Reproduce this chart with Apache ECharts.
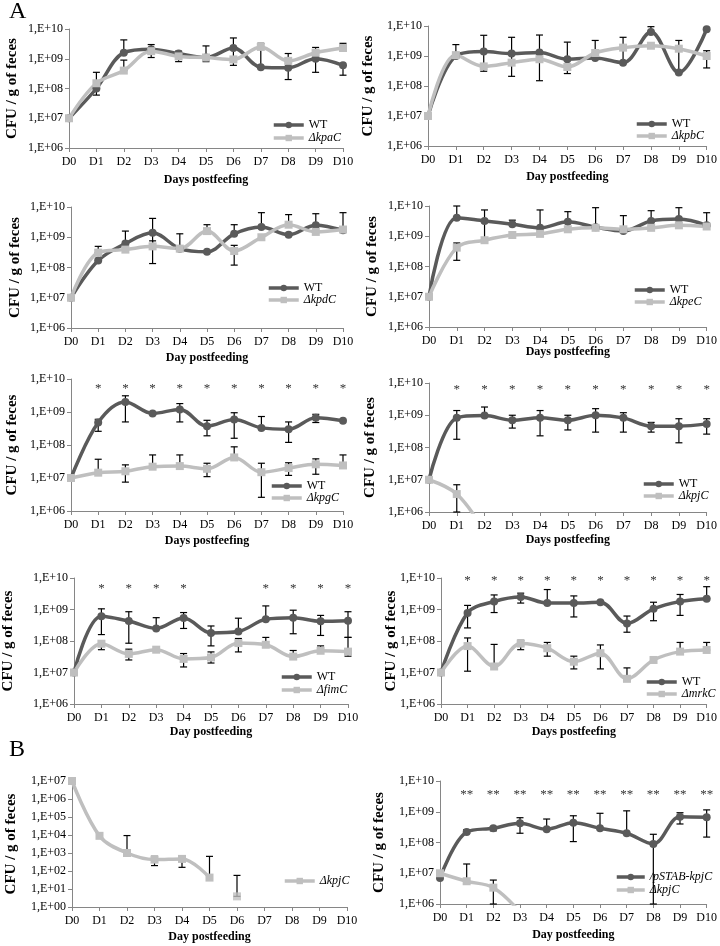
<!DOCTYPE html>
<html>
<head>
<meta charset="utf-8">
<script src="https://cdn.jsdelivr.net/npm/echarts@6/dist/echarts.min.js"></script>
<style>
html, body { margin: 0; padding: 0; background: #fff; }
#main { width: 720px; height: 946px; }
</style>
</head>
<body>
<div id="main"></div>
<script>
var days = ['D0', 'D1', 'D2', 'D3', 'D4', 'D5', 'D6', 'D7', 'D8', 'D9', 'D10'];

// error bars are [day, low, high]
var kpaWT = [1e7, 1e8, 1.6e9, 2.1e9, 1.5e9, 1.1e9, 2.3e9, 5.2e8, 5e8, 1e9, 6e8];
var kpaMut = [1e7, 1.5e8, 4e8, 1.8e9, 1.2e9, 1.1e9, 9.5e8, 2.5e9, 8.5e8, 1.6e9, 2.3e9];
var kpaErr = [[1, 6e7, 3.5e8], [2, 1.6e9, 4.3e9], [2, 4e8, 9e8], [3, 1.1e9, 3e9], [4, 8e8, 1.8e9], [5, 8e8, 2.7e9],
    [6, 6e8, 5e9], [7, 5.2e8, 3.3e9], [8, 2e8, 1.5e9], [9, 3.5e8, 2.4e9], [10, 2.8e8, 6e8], [10, 2.3e9, 3.3e9]];

var kpbWT = [1e7, 1e9, 1.4e9, 1.2e9, 1.3e9, 7.8e8, 8.6e8, 6e8, 6.3e9, 2.8e8, 7.8e9];
var kpbMut = [1e7, 1.07e9, 4.5e8, 6e8, 7.8e8, 4.3e8, 1.26e9, 1.9e9, 2.2e9, 1.75e9, 1e9];
var kpbErr = [[1, 1e9, 2.4e9], [2, 3.1e8, 4.9e9], [3, 2.1e8, 4.2e9], [4, 1.5e8, 5e9], [5, 2.6e8, 2.9e9],
    [6, 1.26e9, 3.3e9], [7, 6e8, 4.2e9], [8, 6.3e9, 9.5e9], [9, 2.8e8, 3.3e9], [10, 4e8, 1.5e9]];

var kpdWT = [1e7, 1.7e8, 6.2e8, 1.4e9, 4.2e8, 3.3e8, 1.3e9, 2.2e9, 1.2e9, 2.5e9, 1.7e9];
var kpdMut = [1e7, 3.1e8, 3.9e8, 5e8, 4.2e8, 1.6e9, 3.5e8, 1e9, 2.6e9, 1.5e9, 1.8e9];
var kpdErr = [[1, 3.1e8, 5e8], [2, 6.2e8, 1.6e9], [3, 1.35e8, 4.2e9], [3, 5e8, 7.6e8], [4, 4.2e8, 1.3e9],
    [5, 1.6e9, 2.6e9], [6, 1.3e9, 2.6e9], [6, 1.2e8, 5.4e8], [7, 2.2e9, 6.5e9], [8, 2.6e9, 5.6e9],
    [9, 2.5e9, 6e9], [10, 1.7e9, 6.5e9]];

var kpeWT = [1e7, 4.1e9, 3.2e9, 2.5e9, 1.9e9, 3e9, 2e9, 1.5e9, 3.2e9, 3.7e9, 2.3e9];
var kpeMut = [1e7, 4.2e8, 7.4e8, 1.1e9, 1.2e9, 1.7e9, 1.9e9, 1.7e9, 1.9e9, 2.3e9, 2.1e9];
var kpeErr = [[1, 4.1e9, 1e10], [1, 1.6e8, 6e8], [2, 7.4e8, 7.4e9], [3, 2.5e9, 3.4e9], [4, 1.2e9, 7.4e9],
    [5, 1.7e9, 6.5e9], [6, 1.9e9, 8.8e9], [7, 1.5e9, 4.8e9], [8, 1.9e9, 7e9], [9, 3.7e9, 8.8e9], [10, 2.1e9, 6e9]];

var kpgWT = [1e7, 4.8e8, 2e9, 9e8, 1.2e9, 3.7e8, 5.9e8, 3.3e8, 3e8, 6.7e8, 5.4e8];
var kpgMut = [1e7, 1.45e7, 1.6e7, 2.2e7, 2.3e7, 1.9e7, 4.2e7, 1.5e7, 2e7, 2.6e7, 2.4e7];
var kpgErr = [[1, 2.6e8, 6e8], [2, 5e8, 3.1e9], [4, 5e8, 1.8e9], [5, 1.9e8, 5.6e8], [6, 1.6e8, 9.5e8],
    [7, 3.3e8, 7.3e8], [8, 1.2e8, 5e8], [9, 4.8e8, 8.5e8],
    [1, 1.45e7, 3.7e7], [2, 7.5e6, 2.5e7], [3, 2.2e7, 5e7], [4, 2.3e7, 5e7], [5, 1.1e7, 2.8e7],
    [6, 4.2e7, 8.8e7], [7, 2.6e6, 2.8e7], [8, 1.2e7, 2.9e7], [9, 1.3e7, 3.8e7], [10, 2.4e7, 5e7]];
var kpgStars = [1, 2, 3, 4, 5, 6, 7, 8, 9, 10];

var kpjWT = [1e7, 8.3e8, 9.8e8, 7e8, 8.3e8, 7e8, 1e9, 8.3e8, 4.6e8, 4.6e8, 5.4e8];
var kpjMut = [1e7, 3.6e6, 2.5e5, null, null, null, null, null, null, null, null];
var kpjErr = [[1, 1.8e8, 1.4e9], [2, 9.8e8, 1.8e9], [3, 4e8, 1e9], [4, 2.3e8, 1.4e9], [5, 3.5e8, 1e9],
    [6, 3e8, 1.6e9], [7, 3e8, 1.2e9], [8, 3e8, 6e8], [9, 1.4e8, 7.8e8], [10, 2.6e8, 7.8e8], [1, 1e6, 7e6]];
var kpjStars = [1, 2, 3, 4, 5, 6, 7, 8, 9, 10];

var fimWT = [1e7, 6.1e8, 4.3e8, 2.5e8, 5.4e8, 1.8e8, 2e8, 4.9e8, 5.5e8, 4.2e8, 4.4e8];
var fimMut = [1e7, 8.2e7, 3.9e7, 5.3e7, 2.7e7, 3e7, 8.6e7, 7.6e7, 3.2e7, 4.9e7, 4.6e7];
var fimErr = [[1, 1.6e8, 1.05e9], [2, 8.5e7, 8.5e8], [3, 2.5e8, 5.5e8], [4, 2.5e8, 8e8], [5, 7e7, 3e8],
    [6, 2e8, 5.3e8], [7, 4.9e8, 1.3e9], [8, 1.7e8, 9.5e8], [9, 1.5e8, 6.5e8], [10, 1.3e8, 8.5e8],
    [1, 5.3e7, 8.2e7], [2, 2.5e7, 5.5e7], [4, 1.5e7, 4e7], [5, 2e7, 4.5e7], [6, 4.5e7, 1.2e8],
    [7, 7.6e7, 1.3e8], [8, 3.2e7, 5e7], [9, 4.9e7, 7e7], [10, 3.3e7, 1.3e8]];
var fimStars = [1, 2, 3, 4, 7, 8, 9, 10];

var mrkWT = [1e7, 7.8e8, 1.8e9, 2.5e9, 1.6e9, 1.6e9, 1.7e9, 3.6e8, 1.05e9, 1.8e9, 2.2e9];
var mrkMut = [1e7, 6.9e7, 1.55e7, 8.3e7, 5.9e7, 2.2e7, 4.1e7, 6.3e6, 2.5e7, 4.6e7, 5.2e7];
var mrkErr = [[1, 2.6e8, 1.35e9], [2, 8e8, 2.9e9], [3, 1.6e9, 3.3e9], [4, 1.6e9, 4.3e9], [5, 5.8e8, 2.7e9],
    [7, 1.9e8, 6.2e8], [8, 4.4e8, 1.7e9], [9, 6.5e8, 3e9], [10, 2.2e9, 5.3e9],
    [1, 1.1e7, 1.25e8], [2, 1.55e7, 7.8e7], [3, 5.3e7, 1.05e8], [4, 3.3e7, 9e7], [5, 1.3e7, 3.3e7],
    [6, 1.3e7, 7.5e7], [7, 6.3e6, 1.4e7], [9, 4.6e7, 9e7], [10, 5.2e7, 9e7]];
var mrkStars = [1, 2, 3, 4, 5, 6, 7, 8, 9, 10];

// B
var bKpj = [1e7, 9e3, 1e3, 4.3e2, 4.7e2, 43, 3.9, null, null, null, null];
var bKpjErr = [[2, 1e3, 9.3e3], [3, 2e2, 6.5e2], [4, 1.6e2, 6.5e2], [5, 43, 6.5e2], [6, 3.9, 57]];

var pstabComp = [7e6, 2.2e8, 2.9e8, 4.2e8, 2.7e8, 4.4e8, 2.9e8, 2e8, 9e7, 6.9e8, 6.6e8];
var pstabMut = [1e7, 5.5e6, 3.4e6, 5.5e5, null, null, null, null, null, null, null];
var pstabErr = [[1, 2e8, 2.6e8], [2, 2.4e8, 3.3e8], [3, 2e8, 6.4e8], [4, 2.7e8, 5.8e8], [5, 1.07e8, 7.4e8],
    [6, 2.9e8, 8.9e8], [7, 2e8, 1.07e9], [8, 1e6, 1.85e8], [9, 4e8, 9.3e8], [10, 1.5e8, 1.15e9],
    [1, 5.5e6, 2e7], [2, 1e6, 6e6]];
var pstabStars = [1, 2, 3, 4, 5, 6, 7, 8, 9, 10];

var FONT = 'Liberation Serif';
var DARK = '#5a5a5a';
var LIGHT = '#bfbfbf';
var AXIS = '#868686';

var panels = [
    { left: 69, top: 29, width: 274, height: 119, xName: 'Days postfeefing', xGap: 26, yGap: 49,
      wt: { name: 'WT', data: kpaWT }, mut: { name: 'ΔkpaC', data: kpaMut }, err: kpaErr,
      legLeft: 272, legTop: 119, legGap: 1 },
    { left: 428, top: 26, width: 280, height: 120, xName: 'Day postfeeding', xGap: 25, yGap: 52,
      wt: { name: 'WT', data: kpbWT }, mut: { name: 'ΔkpbC', data: kpbMut }, err: kpbErr,
      legLeft: 635, legTop: 118, legGap: 0 },
    { left: 71, top: 207, width: 272, height: 121, xName: 'Day postfeeding', xGap: 24, yGap: 48,
      wt: { name: 'WT', data: kpdWT }, mut: { name: 'ΔkpdC', data: kpdMut }, err: kpdErr,
      legLeft: 267, legTop: 282, legGap: 0 },
    { left: 429, top: 206, width: 279, height: 121, xName: 'Days postfeefing', xGap: 19, yGap: 49,
      wt: { name: 'WT', data: kpeWT }, mut: { name: 'ΔkpeC', data: kpeMut }, err: kpeErr,
      legLeft: 633, legTop: 284, legGap: 0 },
    { left: 71, top: 379, width: 272, height: 132, xName: 'Days postfeefing', xGap: 24, yGap: 51,
      wt: { name: 'WT', data: kpgWT }, mut: { name: 'ΔkpgC', data: kpgMut }, err: kpgErr,
      stars: kpgStars, starLevel: 5e9, starText: '*',
      legLeft: 270, legTop: 480, legGap: 0 },
    { left: 429, top: 383, width: 279, height: 129, xName: 'Days postfeefing', xGap: 22, yGap: 51,
      wt: { name: 'WT', data: kpjWT }, mut: { name: 'ΔkpjC', data: kpjMut }, err: kpjErr,
      stars: kpjStars, starLevel: 6.2e9, starText: '*',
      legLeft: 642, legTop: 478, legGap: 0 },
    { left: 73, top: 578, width: 275, height: 126, xName: 'Day postfeeding', xGap: 22, yGap: 58,
      wt: { name: 'WT', data: fimWT }, mut: { name: 'ΔfimC', data: fimMut }, err: fimErr,
      stars: fimStars, starLevel: 4.5e9, starText: '*',
      legLeft: 280, legTop: 671, legGap: 1 },
    { left: 441, top: 578, width: 267, height: 126, xName: 'Days postfeefing', xGap: 22, yGap: 42,
      wt: { name: 'WT', data: mrkWT }, mut: { name: 'ΔmrkC', data: mrkMut }, err: mrkErr,
      stars: mrkStars, starLevel: 8.3e9, starText: '*',
      legLeft: 645, legTop: 676, legGap: 0 },
    { left: 72, top: 781, width: 275, height: 126, xName: 'Day postfeeding', xGap: 24, yGap: 53, min: 1, max: 1e7,
      mut: { name: 'ΔkpjC', data: bKpj, breakAt: 6 }, err: bKpjErr,
      legLeft: 283, legTop: 875, legGap: 0 },
    { left: 440, top: 781, width: 268, height: 123, xName: 'Day postfeeding', xGap: 25, yGap: 53,
      wt: { name: '/pSTAB-kpjC', data: pstabComp, italic: true }, mut: { name: 'ΔkpjC', data: pstabMut }, err: pstabErr,
      stars: pstabStars, starLevel: 3.7e9, starText: '**',
      legLeft: 615, legTop: 871, legGap: 1, legWidth: 28 }
];

var chart = echarts.init(document.getElementById('main'));

var option = {
    backgroundColor: '#fff',
    animation: false,
    grid: [], xAxis: [], yAxis: [], series: [], legend: [],
    graphic: [
        { type: 'text', left: 9, top: 0, style: { text: 'A', font: '24px "Liberation Serif"', fill: '#000' } },
        { type: 'text', left: 9, top: 738, style: { text: 'B', font: '24px "Liberation Serif"', fill: '#000' } }
    ]
};

function expLabel(v) {
    var e = Math.round(Math.log(v) / Math.LN10);
    return '1,E+' + (e < 10 ? '0' + e : e);
}

function renderErr(params, api) {
    var x = api.value(0);
    var lo = api.coord([x, api.value(1)]);
    var hi = api.coord([x, api.value(2)]);
    var h = 3.5;
    var st = { stroke: '#000', lineWidth: 1.2 };
    return {
        type: 'group',
        children: [
            { type: 'line', shape: { x1: lo[0], y1: lo[1], x2: hi[0], y2: hi[1] }, style: st },
            { type: 'line', shape: { x1: hi[0] - h, y1: hi[1], x2: hi[0] + h, y2: hi[1] }, style: st },
            { type: 'line', shape: { x1: lo[0] - h, y1: lo[1], x2: lo[0] + h, y2: lo[1] }, style: st }
        ]
    };
}

function lineSeries(k, s, dark) {
    var col = dark ? DARK : LIGHT;
    var data = s.data;
    if (s.breakAt) {
        data = s.data.map(function (v, i) { return i < s.breakAt ? v : null; });
    }
    var out = [{
        type: 'line', name: s.name, xAxisIndex: k, yAxisIndex: k,
        data: data, smooth: 0.35, connectNulls: false,
        symbol: dark ? 'circle' : 'rect', symbolSize: 8, showSymbol: true,
        lineStyle: { color: col, width: 3.5 }, itemStyle: { color: col },
        z: 3
    }];
    if (s.breakAt) {
        out.push({
            type: 'scatter', name: s.name, xAxisIndex: k, yAxisIndex: k,
            data: s.data.map(function (v, i) { return i >= s.breakAt ? v : null; }),
            symbol: 'rect', symbolSize: 8, itemStyle: { color: col }, z: 3
        });
    }
    return out;
}

panels.forEach(function (p, k) {
    option.grid.push({ left: p.left, top: p.top, width: p.width, height: p.height });
    option.xAxis.push({
        type: 'category', gridIndex: k, data: days, boundaryGap: false,
        name: p.xName, nameLocation: 'middle', nameGap: p.xGap, nameMoveOverlap: false,
        nameTextStyle: { fontFamily: FONT, fontWeight: 'bold', fontSize: 12, color: '#000' },
        axisLine: { lineStyle: { color: AXIS } },
        axisTick: { show: true, length: 4, lineStyle: { color: AXIS } },
        axisLabel: { fontFamily: FONT, fontSize: 12, color: '#000', margin: 8, interval: 0 },
        splitLine: { show: false }
    });
    option.yAxis.push({
        type: 'log', logBase: 10, gridIndex: k,
        min: p.min || 1e6, max: p.max || 1e10,
        name: 'CFU / g of feces', nameLocation: 'middle', nameGap: p.yGap, nameRotate: 90, nameMoveOverlap: false,
        nameTextStyle: { fontFamily: FONT, fontWeight: 'bold', fontSize: 15, color: '#000' },
        axisLine: { show: true, lineStyle: { color: AXIS } },
        axisTick: { show: true, length: 4, lineStyle: { color: AXIS } },
        axisLabel: { formatter: expLabel, fontFamily: FONT, fontSize: 12, color: '#000', margin: 6 },
        splitLine: { show: false }
    });

    option.series.push({
        type: 'custom', xAxisIndex: k, yAxisIndex: k, renderItem: renderErr,
        encode: { x: 0, y: [1, 2] }, data: p.err, z: 2, silent: true
    });

    var legendData = [];
    if (p.wt) {
        option.series = option.series.concat(lineSeries(k, p.wt, true));
        legendData.push(p.wt.italic ? { name: p.wt.name, textStyle: { fontStyle: 'italic' } } : { name: p.wt.name });
    }
    option.series = option.series.concat(lineSeries(k, p.mut, false));
    legendData.push({ name: p.mut.name, textStyle: { fontStyle: 'italic' } });

    if (p.stars) {
        option.series.push({
            type: 'custom', xAxisIndex: k, yAxisIndex: k, silent: true,
            data: p.stars.map(function (d) { return [d, p.starLevel]; }),
            encode: { x: 0, y: 1 },
            renderItem: function (params, api) {
                var pt = api.coord([api.value(0), api.value(1)]);
                return {
                    type: 'text', x: pt[0], y: pt[1],
                    style: { text: p.starText, fill: '#333', font: '13px "Liberation Serif"', align: 'center', verticalAlign: 'middle' }
                };
            }
        });
    }

    option.legend.push({
        data: legendData, left: p.legLeft, top: p.legTop, orient: 'vertical',
        itemWidth: p.legWidth || 30, itemHeight: 8, itemGap: p.legGap, padding: 0,
        lineStyle: { width: 3.5 },
        textStyle: { fontFamily: FONT, fontSize: 12, color: '#000' }
    });
});

chart.setOption(option);
</script>
</body>
</html>
